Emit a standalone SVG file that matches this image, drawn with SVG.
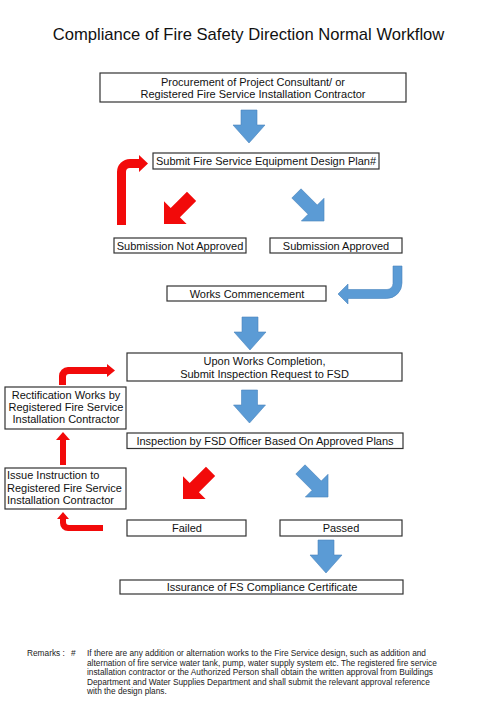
<svg xmlns="http://www.w3.org/2000/svg" width="500" height="722" viewBox="0 0 500 722">
<style>
.box{fill:#fff;stroke:#333;stroke-width:1.2}
.t{font-family:"Liberation Sans",Arial,sans-serif;font-size:11px;fill:#111;text-anchor:middle}
.tl{font-family:"Liberation Sans",Arial,sans-serif;font-size:11px;fill:#111}
.title{font-family:"Liberation Sans",Arial,sans-serif;font-size:16.6px;fill:#111;text-anchor:middle}
.rm{font-family:"Liberation Sans",Arial,sans-serif;font-size:8.3px;fill:#222}
.blue{fill:#5b9bd5;stroke:#4a85bd;stroke-width:0.6}
.red{fill:#f20a0a}
</style>
<defs>
<path id="down" d="M0,0 L-16,-18 L-8,-18 L-8,-33 L8,-33 L8,-18 L16,-18 Z"/>
<path id="diag" d="M0,0 L-16,-16 L-6.5,-16 L-6.5,-39 L6.5,-39 L6.5,-16 L16,-16 Z"/>
</defs>
<rect width="500" height="722" fill="#fff"/>
<text class="title" x="248.5" y="40">Compliance of Fire Safety Direction Normal Workflow</text>

<g id="connectors">
<use href="#down" class="blue" transform="translate(249,143)"/>
<use href="#down" class="blue" transform="translate(250,350)"/>
<use href="#down" class="blue" transform="translate(249.5,423)"/>
<use href="#down" class="blue" transform="translate(326,573)"/>
<use href="#diag" class="red" transform="translate(164,224) rotate(45)"/>
<use href="#diag" class="blue" transform="translate(324,221) rotate(-45)"/>
<use href="#diag" class="red" transform="translate(183,499) rotate(45)"/>
<use href="#diag" class="blue" transform="translate(328,497) rotate(-45)"/>
<path class="blue" d="M393,266 L402,266 L402,283 A15.5,15.5 0 0 1 386.5,298.5 L348,298.5 L348,304 L338,294 L348,284 L348,289.5 L387,289.5 A6,6 0 0 0 393,283.5 Z"/>
<path class="red" d="M117,225 L117,172 A13,13 0 0 1 130,159 L139,159 L139,155 L148,163.5 L139,172 L139,168 L130,168 A4,4 0 0 0 126,172 L126,225 Z"/>
<path class="red" d="M59,385 L59,376 A9,9 0 0 1 68,367 L107,367 L107,364 L115,370.5 L107,377 L107,374 L69,374 A3,3 0 0 0 66,377 L66,385 Z"/>
<path class="red" d="M63,432 L70,440 L66,440 L66,465 L60,465 L60,440 L56,440 Z"/>
<path class="red" d="M103,525 L69,525 A3,3 0 0 1 66,522 L66,519 L69,519 L63,512 L57,519 L60,519 L60,523 A8,8 0 0 0 68,531 L103,531 Z"/>
</g>

<g id="n1"><rect class="box" x="100" y="73" width="306" height="29"/>
<text class="t" x="253" y="86">Procurement of Project Consultant/ or</text>
<text class="t" x="253" y="98">Registered Fire Service Installation Contractor</text></g>
<g id="n2"><rect class="box" x="153" y="153" width="226" height="16"/>
<text class="t" x="266" y="165">Submit Fire Service Equipment Design Plan#</text></g>
<g id="n3"><rect class="box" x="114" y="238" width="132" height="15"/>
<text class="t" x="180" y="249.5">Submission Not Approved</text></g>
<g id="n4"><rect class="box" x="270" y="238" width="132" height="15"/>
<text class="t" x="336" y="249.5">Submission Approved</text></g>
<g id="n5"><rect class="box" x="167" y="286" width="159" height="15"/>
<text class="t" x="247" y="297.5">Works Commencement</text></g>
<g id="n6"><rect class="box" x="127" y="353" width="275" height="28"/>
<text class="t" x="264.5" y="365">Upon Works Completion,</text>
<text class="t" x="264.5" y="378">Submit Inspection Request to FSD</text></g>
<g id="n7"><rect class="box" x="5" y="387" width="121" height="42"/>
<text class="t" x="66" y="399">Rectification Works by</text>
<text class="t" x="66" y="411">Registered Fire Service</text>
<text class="t" x="66" y="423">Installation Contractor</text></g>
<g id="n8"><rect class="box" x="127" y="433" width="276" height="15.5"/>
<text class="t" x="265" y="444.5">Inspection by FSD Officer Based On Approved Plans</text></g>
<g id="n9"><rect class="box" x="5" y="468" width="121" height="41"/>
<text class="tl" x="7" y="479">Issue Instruction to</text>
<text class="tl" x="7" y="491.5">Registered Fire Service</text>
<text class="tl" x="7" y="504">Installation Contractor</text></g>
<g id="n10"><rect class="box" x="127" y="520" width="119" height="16"/>
<text class="t" x="187" y="532">Failed</text></g>
<g id="n11"><rect class="box" x="280" y="520" width="122" height="16"/>
<text class="t" x="341" y="532">Passed</text></g>
<g id="n12"><rect class="box" x="120" y="580" width="283" height="14"/>
<text class="t" x="262" y="591">Issurance of FS Compliance Certificate</text></g>

<g id="remarks">
<text class="rm" x="27" y="656">Remarks :</text>
<text class="rm" x="71" y="656">#</text>
<text class="rm" x="87" y="656">If there are any addition or alternation works to the Fire Service design, such as addition and</text>
<text class="rm" x="87" y="665.5">alternation of fire service water tank, pump, water supply system etc. The registered fire service</text>
<text class="rm" x="87" y="675">installation contractor or the Authorized Person shall obtain the written approval from Buildings</text>
<text class="rm" x="87" y="684.5">Department and Water Supplies Department and shall submit the relevant approval reference</text>
<text class="rm" x="87" y="694">with the design plans.</text>
</g>
</svg>
